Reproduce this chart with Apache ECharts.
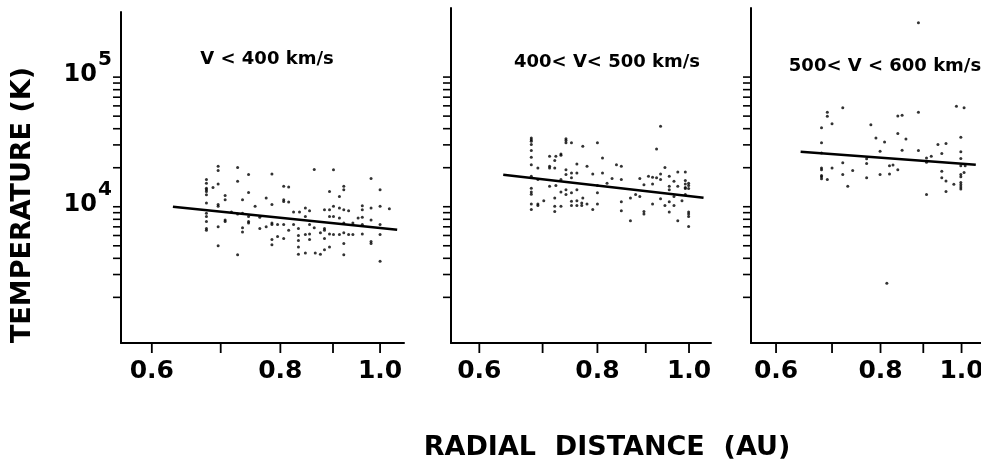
<!DOCTYPE html>
<html>
<head>
<meta charset="utf-8">
<script src="https://cdn.jsdelivr.net/npm/echarts@6/dist/echarts.min.js"></script>
<style>
  html, body { margin: 0; padding: 0; background: #fff; }
  #chart { width: 981px; height: 462px; }
</style>
</head>
<body>
<div id="chart"></div>
<script>
// Proton temperature (K) versus radial distance (AU), split by solar-wind speed.
const slowWind = [
  [0.678,16200],[0.678,15200],[0.678,13900],[0.678,13500],[0.678,13100],[0.678,12400],[0.678,10700],[0.678,8900],[0.678,8400],[0.678,7700],[0.678,6800],[0.678,6600],
  [0.688,14100],
  [0.696,20500],[0.696,19000],[0.696,15000],[0.696,10400],[0.696,10100],[0.696,7000],[0.696,5000],
  [0.707,12200],[0.707,11300],[0.707,7900],[0.707,7700],
  [0.717,9100],
  [0.727,20100],[0.727,15700],[0.727,8800],[0.727,4260],
  [0.735,11300],[0.735,8900],[0.735,6900],[0.735,6400],
  [0.745,17700],[0.745,12900],[0.745,8400],[0.745,7700],[0.745,7500],
  [0.756,10100],
  [0.764,8300],[0.764,6800],
  [0.775,11700],[0.775,7000],
  [0.785,17900],[0.785,10400],[0.785,7500],[0.785,7300],[0.785,5600],[0.785,5100],
  [0.795,7300],[0.795,5900],
  [0.806,14400],[0.806,11300],[0.806,11000],[0.806,7300],[0.806,5700],
  [0.815,14200],[0.815,10900],[0.815,6600],
  [0.824,9100],[0.824,7300],
  [0.833,6800],[0.833,6000],[0.833,5500],[0.833,4900],[0.833,4300],
  [0.835,9100],
  [0.846,9800],[0.846,8400],[0.846,6100],[0.846,4400],
  [0.854,9300],[0.854,7300],[0.854,6150],[0.854,5600],
  [0.863,19400],[0.863,6900],
  [0.865,4400],
  [0.875,6300],[0.875,4300],
  [0.883,9500],[0.883,6800],[0.883,6600],[0.883,5700],[0.883,4650],
  [0.893,13100],[0.893,9500],[0.893,8400],[0.893,6150],[0.893,4900],
  [0.901,19300],[0.901,10100],[0.901,8400],[0.901,6100],
  [0.913,12000],[0.913,9800],[0.913,8200],[0.913,6100],
  [0.922,14400],[0.922,13500],[0.922,9500],[0.922,7500],[0.922,6300],[0.922,5200],[0.922,4260],
  [0.932,9300],[0.932,6100],
  [0.941,7500],[0.941,6100],
  [0.952,8200],
  [0.961,10200],[0.961,9500],[0.961,8300],[0.961,7300],[0.961,6150],
  [0.980,16500],[0.980,9800],[0.980,7900],[0.980,5400],[0.980,5200],
  [1.000,13500],[1.000,10100],[1.000,7300],[1.000,6100],[1.000,3800],
  [1.021,9650]
];

const midWind = [
  [0.681,33900],[0.681,32900],[0.681,32000],[0.681,30200],[0.681,27100],[0.681,24100],[0.681,21100],[0.681,17200],[0.681,13900],[0.681,13000],[0.681,12500],[0.681,10500],[0.681,9500],
  [0.692,19900],[0.692,16200],[0.692,10500],[0.692,10200],
  [0.702,11100],
  [0.712,24500],[0.712,20500],[0.712,19900],[0.712,14400],
  [0.721,22700],[0.721,19900],[0.721,11700],[0.721,10100],[0.721,9200],
  [0.723,24500],[0.723,14600],
  [0.732,25500],[0.732,24900],[0.732,16200],[0.732,13000],[0.732,10100],
  [0.741,33500],[0.741,32400],[0.741,31100],[0.741,19300],[0.741,17700],[0.741,13500],[0.741,12400],
  [0.751,31100],[0.751,18200],[0.751,16700],[0.751,12800],[0.751,11000],[0.751,10200],
  [0.761,21400],[0.761,18200],[0.761,13500],[0.761,11100],[0.761,10200],
  [0.770,10700],[0.770,10200],
  [0.772,29300],[0.772,11700],
  [0.780,20500],[0.780,10500],
  [0.791,17900],[0.791,9500],
  [0.800,31100],[0.800,14600],[0.800,12800],[0.800,10500],
  [0.810,23800],[0.810,18200],
  [0.819,15200],
  [0.829,16500],
  [0.838,21100],
  [0.848,20500],[0.848,16200],[0.848,10900],[0.848,9300],
  [0.867,11700],[0.867,7800],
  [0.878,12400],
  [0.887,16500],[0.887,12000],
  [0.896,14800],[0.896,9200],[0.896,8800],
  [0.906,17200],
  [0.915,16900],[0.915,15000],[0.915,10500],
  [0.924,27900],[0.924,16700],
  [0.933,41800],[0.933,17900],[0.933,16200],[0.933,11500],
  [0.943,20100],[0.943,10200],
  [0.953,17200],[0.953,14400],[0.953,13500],[0.953,10900],[0.953,9100],
  [0.964,15700],[0.964,12000],[0.964,10200],
  [0.973,18500],[0.973,14400],[0.973,7800],
  [0.983,11100],
  [0.991,18500],[0.991,15900],[0.991,15000],[0.991,14100],[0.991,13800],[0.991,12400],
  [0.999,15200],[0.999,14600],[0.999,13800],[0.999,9100],[0.999,8800],[0.999,8400],[0.999,7050]
];

const fastWind = [
  [0.680,40600],[0.680,31100],[0.680,26000],[0.680,19900],[0.680,19300],[0.680,17400],[0.680,17000],[0.680,16400],
  [0.691,53600],[0.691,49900],[0.691,16200],
  [0.700,43600],[0.700,19900],
  [0.721,57900],[0.721,21800],[0.721,17700],
  [0.731,14400],
  [0.741,19000],
  [0.770,23400],[0.770,21500],[0.770,16700],
  [0.779,42800],
  [0.790,33900],
  [0.799,26800],[0.799,17700],
  [0.809,31600],
  [0.814,2570],
  [0.820,20700],[0.820,17900],
  [0.828,21000],
  [0.839,50200],[0.839,36700],[0.839,19300],
  [0.849,50800],[0.849,27300],
  [0.858,33300],
  [0.888,262800],[0.888,53600],[0.888,27100],
  [0.908,23800],[0.908,22000],[0.908,12400],
  [0.920,24500],
  [0.937,30200],
  [0.947,25700],[0.947,18800],[0.947,16700],
  [0.958,30700],[0.958,15800],[0.958,13100],
  [0.979,14900],
  [0.986,59600],
  [0.998,34300],[0.998,26600],[0.998,23600],[0.998,20700],[0.998,17700],[0.998,17000],[0.998,15400],[0.998,14800],[0.998,14200],[0.998,13700],
  [1.007,57900],[1.007,18400],
  [1.010,20700]
];

// Power-law fits, one per speed range (end points of each fitted line)
const slowFit = [[0.629,10000],[1.039,6640]];
const midFit  = [[0.636,17660],[1.036,11740]];
const fastFit = [[0.642,26600],[1.040,21100]];

const panelTitles = ['V < 400 km/s', '400< V< 500 km/s', '500< V < 600 km/s'];
const rTicks  = [0.6, 0.7, 0.8, 0.9, 1.0];
const rLabels = ['0.6', '0.8', '1.0'];
const tTicks  = [2000,3000,4000,5000,6000,7000,8000,9000,10000,20000,30000,40000,50000,60000,70000,80000,90000,100000];
const tDecades = [4, 5];

const FONT = '"DejaVu Sans", "Liberation Sans", sans-serif';
const R_MIN = 0.56, R_MAX = 1.055, T_MIN = 889;
const REF_T = 10000; // any temperature inside the axis range, used to place x-axis ticks

const panels = [
  { left: 121, top: 12, width: 283, height: 331, tMax: 3.18e5, titleX: 267, titleY: 59 },
  { left: 451, top: 8,  width: 260, height: 335, tMax: 3.41e5, titleX: 607, titleY: 62 },
  { left: 751, top: 8,  width: 236, height: 335, tMax: 3.41e5, titleX: 885, titleY: 66 }
];
const pointSets = [slowWind, midWind, fastWind];
const fitSets = [slowFit, midFit, fastFit];

function textEl(x, y, text, font, align) {
  return {
    type: 'text', x: x, y: y,
    style: { text: text, font: font, fill: '#000',
             textAlign: align, align: align,
             textVerticalAlign: 'middle', verticalAlign: 'middle' }
  };
}

const grid = [], xAxis = [], yAxis = [], series = [], graphic = [];

panels.forEach(function (p, i) {
  grid.push({ left: p.left, top: p.top, width: p.width, height: p.height });
  xAxis.push({
    type: 'log', gridIndex: i, min: R_MIN, max: R_MAX,
    axisLine: { onZero: false, lineStyle: { color: '#000', width: 2 } },
    axisTick: { show: false }, axisLabel: { show: false }, splitLine: { show: false }
  });
  yAxis.push({
    type: 'log', gridIndex: i, min: T_MIN, max: p.tMax,
    axisLine: { lineStyle: { color: '#000', width: 2 } },
    axisTick: { show: false }, axisLabel: { show: false }, splitLine: { show: false }
  });

  series.push({
    type: 'scatter', xAxisIndex: i, yAxisIndex: i,
    data: pointSets[i], symbol: 'circle', symbolSize: 3,
    itemStyle: { color: '#000' }, silent: true, z: 3
  });
  series.push({
    type: 'line', xAxisIndex: i, yAxisIndex: i,
    data: fitSets[i], symbol: 'none', silent: true, z: 4,
    lineStyle: { color: '#000', width: 2.5 }
  });

  // temperature ticks on the left of each panel
  series.push({
    type: 'custom', xAxisIndex: i, yAxisIndex: i, silent: true, clip: false, z: 5,
    data: tTicks.map(function (t) { return [1, t]; }),
    renderItem: function (params, api) {
      const cs = params.coordSys;
      const y = api.coord([api.value(0), api.value(1)])[1];
      return { type: 'line', shape: { x1: cs.x - 8, y1: y, x2: cs.x, y2: y },
               style: { stroke: '#000', lineWidth: 1.6 } };
    }
  });

  // distance ticks below each panel
  series.push({
    type: 'custom', xAxisIndex: i, yAxisIndex: i, silent: true, clip: false, z: 5,
    data: rTicks.map(function (r) { return [r, REF_T]; }),
    renderItem: function (params, api) {
      const cs = params.coordSys;
      const x = api.coord([api.value(0), api.value(1)])[0];
      const yb = cs.y + cs.height;
      return { type: 'line', shape: { x1: x, y1: yb, x2: x, y2: yb + 10 },
               style: { stroke: '#000', lineWidth: 1.8 } };
    }
  });

  // distance tick labels
  series.push({
    type: 'custom', xAxisIndex: i, yAxisIndex: i, silent: true, clip: false, z: 5,
    data: rLabels.map(function (s) { return [parseFloat(s), REF_T]; }),
    renderItem: function (params, api) {
      const cs = params.coordSys;
      const x = api.coord([api.value(0), api.value(1)])[0];
      return textEl(x, cs.y + cs.height + 28, rLabels[params.dataIndex], 'bold 25px ' + FONT, 'center');
    }
  });

  graphic.push(textEl(p.titleX, p.titleY, panelTitles[i], 'bold 18px ' + FONT, 'center'));
});

// decade labels (10^4, 10^5) on the first panel only
series.push({
  type: 'custom', xAxisIndex: 0, yAxisIndex: 0, silent: true, clip: false, z: 5,
  data: tDecades.map(function (e) { return [1, Math.pow(10, e)]; }),
  renderItem: function (params, api) {
    const cs = params.coordSys;
    const y = api.coord([api.value(0), api.value(1)])[1];
    return {
      type: 'group',
      children: [
        textEl(cs.x - 24, y - 2, '10', 'bold 24px ' + FONT, 'right'),
        textEl(cs.x - 23, y - 17, String(tDecades[params.dataIndex]), 'bold 20px ' + FONT, 'left')
      ]
    };
  }
});

// axis titles
graphic.push({
  type: 'text', x: 23, y: 205, rotation: Math.PI / 2,
  style: { text: 'TEMPERATURE (K)', font: 'bold 27px ' + FONT, fill: '#000',
           textAlign: 'center', align: 'center', textVerticalAlign: 'middle', verticalAlign: 'middle' }
});
graphic.push(textEl(607, 448, 'RADIAL  DISTANCE  (AU)', 'bold 27px ' + FONT, 'center'));

const chart = echarts.init(document.getElementById('chart'), null, { renderer: 'canvas' });
chart.setOption({
  animation: false,
  backgroundColor: '#fff',
  grid: grid,
  xAxis: xAxis,
  yAxis: yAxis,
  series: series,
  graphic: graphic
});
</script>
</body>
</html>
